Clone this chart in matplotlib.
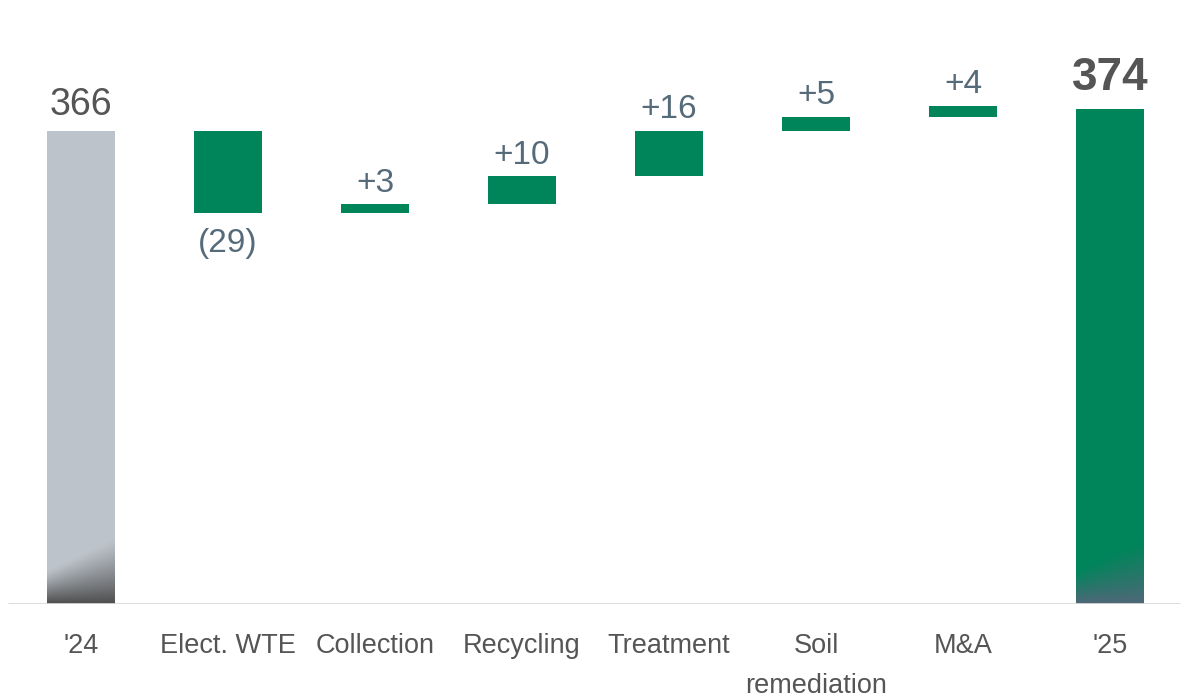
import numpy as np
import matplotlib
matplotlib.use("Agg")
import matplotlib.pyplot as plt

plt.rcParams['font.family'] = ['Liberation Sans', 'DejaVu Sans']

# data
categories = ["'24", "Elect. WTE", "Collection", "Recycling", "Treatment",
              "Soil\nremediation", "M&A", "'25"]
start_value = 366
end_value = 374
deltas = [-29, 3, 10, 16, 5, 4]
delta_labels = ["(29)", "+3", "+10", "+16", "+5", "+4"]

GREY = '#bcc3ca'
GREEN = '#00855a'
LABEL = '#566b79'
DARK = '#555555'

fig = plt.figure(figsize=(11.84, 6.99), dpi=100)
ax = fig.add_axes([0, 0.1359, 1, 0.8641])
ax.set_xlim(-0.551, 7.503)
ax.set_ylim(198.3, 412.5)
w = 0.46


def bottom_gradient(bar, color_to):
    # darker shading at the foot of the big bars
    x0, y0 = bar.get_x(), bar.get_y()
    x1, y1 = x0 + bar.get_width(), y0 + bar.get_height()
    ny, nx = 200, 60
    yy, xx = np.mgrid[0:1:ny * 1j, 0:1:nx * 1j]  # yy: 0 bottom .. 1 top
    h = (y1 - y0)
    fade = 23.0 / h
    edge = fade * (0.5 + 0.5 * xx)  # diagonal, reaches higher on the right
    t = np.clip(1 - yy / edge, 0, 1) ** 1.2
    rgba = np.zeros((ny, nx, 4))
    rgba[..., :3] = matplotlib.colors.to_rgb(color_to)
    rgba[..., 3] = t
    im = ax.imshow(rgba, extent=[x0, x1, y0, y1], origin='lower',
                   aspect='auto', zorder=3, interpolation='bilinear')
    im.set_clip_path(bar)


base = ax.get_ylim()[0]
b0 = ax.bar(0, start_value - base, bottom=base, width=w, color=GREY, zorder=2)[0]
bottom_gradient(b0, '#4f4f4f')
ax.text(0, start_value + 3, str(start_value), ha='center', va='bottom',
        fontsize=27, color=DARK)

level = start_value
for i, (d, lab) in enumerate(zip(deltas, delta_labels), start=1):
    lo = min(level, level + d)
    ax.bar(i, abs(d), bottom=lo, width=w, color=GREEN, zorder=2)
    if d < 0:
        ax.text(i, lo - 5.5, lab, ha='center', va='top', fontsize=24, color=LABEL)
    else:
        ax.text(i, lo + abs(d) + 2, lab, ha='center', va='bottom', fontsize=24,
                color=LABEL)
    level += d

b7 = ax.bar(7, end_value - base, bottom=base, width=w, color=GREEN, zorder=2)[0]
bottom_gradient(b7, '#4e6878')
ax.text(7, end_value + 3, str(end_value), ha='center', va='bottom',
        fontsize=33, fontweight='bold', color=DARK)

ax.hlines(base, -0.497, 7.476, color='#d9d9d9', lw=2, zorder=4)

ax.set_xticks(range(len(categories)))
ax.set_xticklabels(categories, fontsize=19.5, color=DARK, linespacing=1.7)
ax.tick_params(axis='x', length=0, pad=21)
ax.set_yticks([])
for s in ax.spines.values():
    s.set_visible(False)

fig.savefig('out.png', dpi=100)
